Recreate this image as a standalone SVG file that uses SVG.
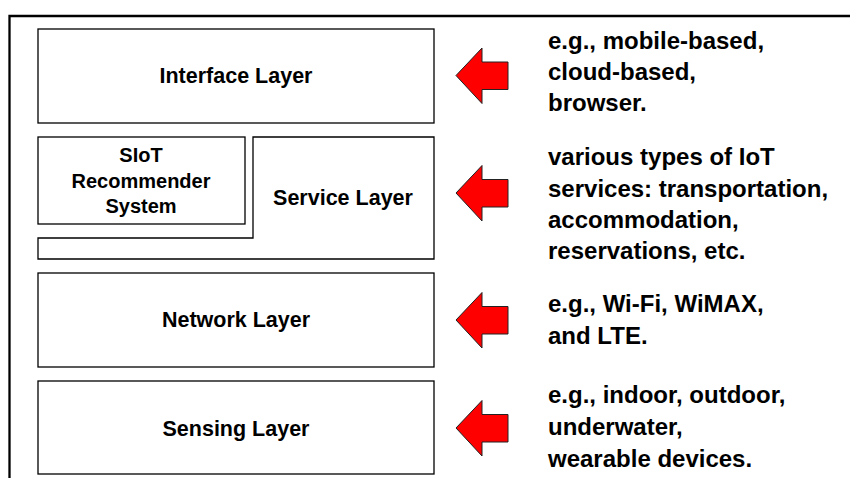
<svg xmlns="http://www.w3.org/2000/svg" width="850" height="478" viewBox="0 0 850 478">
<style>
.box{fill:#fff;stroke:#000;stroke-width:1.3}
.lbl{font-family:"Liberation Sans",Arial,sans-serif;font-weight:bold;font-size:21.5px;fill:#000;text-anchor:middle}
.sm{font-size:20px}
.note{font-family:"Liberation Sans",Arial,sans-serif;font-weight:bold;font-size:24px;fill:#000}
.arrow{fill:#ff0000;stroke:#222;stroke-width:1}
</style>
<defs>
<path id="arr" d="M0,0 L26,-27.5 L26,-13.5 L52,-13.5 L52,14 L26,14 L26,28 Z"/>
</defs>
<rect width="850" height="478" fill="#fff"/>
<g id="frame">
<path d="M850,16 L9.5,16 L9.5,478" fill="none" stroke="#000" stroke-width="2.3"/>
</g>
<g id="interface">
<rect class="box" x="38" y="29" width="396" height="94"/>
<text class="lbl" x="236" y="83">Interface Layer</text>
</g>
<g id="service">
<path class="box" d="M253,137 L434,137 L434,259 L38,259 L38,238 L253,238 Z"/>
<text class="lbl" x="343" y="205">Service Layer</text>
</g>
<g id="siot">
<rect class="box" x="38" y="137" width="207" height="87"/>
<text class="lbl sm" x="141" y="162">SIoT</text>
<text class="lbl sm" x="141" y="188">Recommender</text>
<text class="lbl sm" x="141" y="213">System</text>
</g>
<g id="network">
<rect class="box" x="38" y="273" width="396" height="94"/>
<text class="lbl" x="236" y="327">Network Layer</text>
</g>
<g id="sensing">
<rect class="box" x="38" y="381" width="396" height="93"/>
<text class="lbl" x="236" y="436">Sensing Layer</text>
</g>
<g id="connectors">
<use href="#arr" class="arrow" x="456" y="75.5"/>
<use href="#arr" class="arrow" x="456" y="193"/>
<use href="#arr" class="arrow" x="456" y="320"/>
<use href="#arr" class="arrow" x="456" y="428"/>
</g>
<g id="notes">
<text class="note" x="548" y="49">e.g., mobile-based,</text>
<text class="note" x="548" y="80">cloud-based,</text>
<text class="note" x="548" y="111">browser.</text>
<text class="note" x="548" y="165">various types of IoT</text>
<text class="note" x="548" y="197">services: transportation,</text>
<text class="note" x="548" y="228">accommodation,</text>
<text class="note" x="548" y="259">reservations, etc.</text>
<text class="note" x="548" y="312">e.g., Wi-Fi, WiMAX,</text>
<text class="note" x="548" y="344">and LTE.</text>
<text class="note" x="548" y="403">e.g., indoor, outdoor,</text>
<text class="note" x="548" y="435">underwater,</text>
<text class="note" x="548" y="467">wearable devices.</text>
</g>
</svg>
